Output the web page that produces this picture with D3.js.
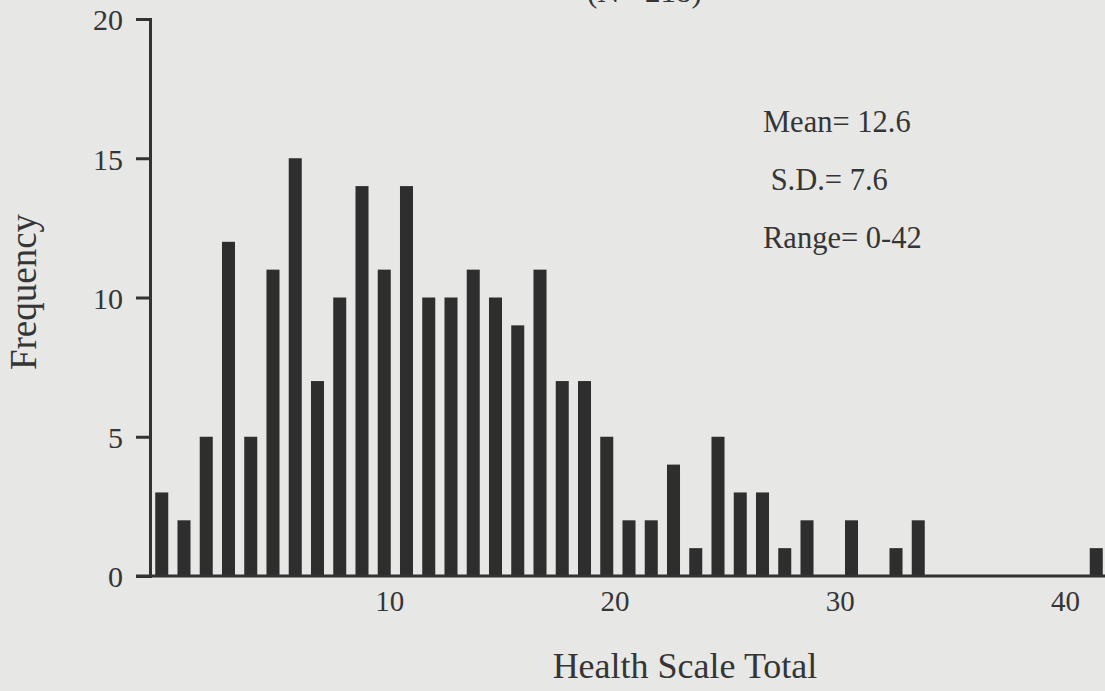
<!DOCTYPE html>
<html>
<head>
<meta charset="utf-8">
<script src="https://cdn.jsdelivr.net/npm/d3@7"></script>
<style>
  html, body { margin: 0; padding: 0; background: #e7e7e5; }
  svg { display: block; }
  text { font-family: "Liberation Serif", "Times New Roman", serif; fill: #353535; }
</style>
</head>
<body>
<div id="chart"></div>
<script>
// scores 0..42 and how often each one occurs
const scores = d3.range(0, 43);
const freq = [3, 2, 5, 12, 5, 11, 15, 7, 10, 14,
              11, 14, 10, 10, 11, 10, 9, 11, 7, 7,
              5, 2, 2, 4, 1, 5, 3, 3, 1, 2,
              0, 2, 0, 1, 2, 0, 0, 0, 0, 0,
              0, 0, 1];
const yTicks = [0, 5, 10, 15, 20];
const xTicks = [10, 20, 30, 40];
const stats = ["Mean= 12.6", " S.D.= 7.6", "Range= 0-42"];
const title = "(N= 218)";

const width = 1105, height = 691;
const ink = "#333333";

const svg = d3.select("#chart").append("svg")
    .attr("width", width)
    .attr("height", height);

const x = d3.scaleBand().domain(scores).range([146, 1112]).padding(0.415);
const xLab = d3.scaleLinear().domain([0, 40]).range([164, 1065]);
const y = d3.scaleLinear().domain([0, 20]).range([576, 19]);

// title, mostly cropped off the top edge like in the scan
svg.append("text").attr("x", 587).attr("y", 2).attr("font-size", 31).text(title);

// bars
svg.append("g").selectAll("rect")
    .data(scores.filter(s => freq[s] > 0))
    .join("rect")
    .attr("x", s => x(s))
    .attr("width", x.bandwidth())
    .attr("y", s => y(freq[s]))
    .attr("height", s => y(0) - y(freq[s]))
    .attr("fill", "#2e2e2e");

// baseline
svg.append("line")
    .attr("x1", 136).attr("x2", width)
    .attr("y1", y(0)).attr("y2", y(0))
    .attr("stroke", ink).attr("stroke-width", 3);

// y axis
const yAxis = svg.append("g")
    .attr("transform", "translate(150,0)")
    .call(d3.axisLeft(y).tickValues(yTicks).tickSize(14).tickPadding(13));
yAxis.selectAll("path, line").attr("stroke", ink).attr("stroke-width", 3);
yAxis.selectAll("text")
    .attr("font-family", "Liberation Serif")
    .attr("font-size", 30)
    .attr("fill", "#353535")
    .attr("dy", "0.36em");

// x tick labels (no tick marks)
const xAxis = svg.append("g")
    .attr("transform", `translate(0,${y(0)})`)
    .call(d3.axisBottom(xLab).tickValues(xTicks).tickSize(0).tickPadding(14));
xAxis.select(".domain").remove();
xAxis.selectAll("text")
    .attr("font-family", "Liberation Serif")
    .attr("font-size", 29)
    .attr("fill", "#353535");

// axis titles
svg.append("text")
    .attr("x", 685).attr("y", 678)
    .attr("text-anchor", "middle")
    .attr("font-size", 36)
    .text("Health Scale Total");

svg.append("text")
    .attr("transform", "translate(36,292) rotate(-90)")
    .attr("text-anchor", "middle")
    .attr("font-size", 37)
    .text("Frequency");

// summary stats
svg.append("g").selectAll("text")
    .data(stats)
    .join("text")
    .attr("x", 763)
    .attr("y", (d, i) => 132 + i * 58)
    .attr("font-size", 30.5)
    .attr("xml:space", "preserve")
    .style("white-space", "pre")
    .text(d => d);
</script>
</body>
</html>
